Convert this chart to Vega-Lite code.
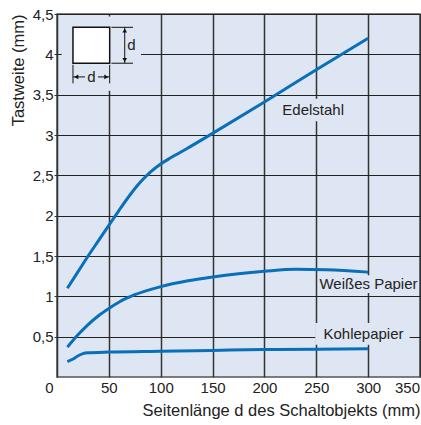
{
  "$schema": "https://vega.github.io/schema/vega-lite/v6.json",
  "width": 363,
  "height": 363,
  "autosize": {"type": "none"},
  "padding": {"left": 57, "top": 14, "right": 1, "bottom": 48},
  "background": "white",
  "config": {
    "font": "Liberation Sans",
    "view": {"fill": "#dfe6f3", "stroke": "#555555", "strokeWidth": 1.5}
  },
  "datasets": {
    "curves": [
      {"material": "Edelstahl", "d": 10, "t": 1.1},
      {"material": "Edelstahl", "d": 20, "t": 1.3},
      {"material": "Edelstahl", "d": 30, "t": 1.5},
      {"material": "Edelstahl", "d": 40, "t": 1.69},
      {"material": "Edelstahl", "d": 50, "t": 1.88},
      {"material": "Edelstahl", "d": 60, "t": 2.07},
      {"material": "Edelstahl", "d": 70, "t": 2.25},
      {"material": "Edelstahl", "d": 80, "t": 2.41},
      {"material": "Edelstahl", "d": 90, "t": 2.54},
      {"material": "Edelstahl", "d": 100, "t": 2.64},
      {"material": "Edelstahl", "d": 110, "t": 2.72},
      {"material": "Edelstahl", "d": 125, "t": 2.83},
      {"material": "Edelstahl", "d": 150, "t": 3.02},
      {"material": "Edelstahl", "d": 200, "t": 3.41},
      {"material": "Edelstahl", "d": 250, "t": 3.81},
      {"material": "Edelstahl", "d": 300, "t": 4.2},
      {"material": "Weißes Papier", "d": 10, "t": 0.37},
      {"material": "Weißes Papier", "d": 20, "t": 0.52},
      {"material": "Weißes Papier", "d": 30, "t": 0.65},
      {"material": "Weißes Papier", "d": 40, "t": 0.76},
      {"material": "Weißes Papier", "d": 50, "t": 0.85},
      {"material": "Weißes Papier", "d": 60, "t": 0.93},
      {"material": "Weißes Papier", "d": 75, "t": 1.02},
      {"material": "Weißes Papier", "d": 100, "t": 1.12},
      {"material": "Weißes Papier", "d": 125, "t": 1.19},
      {"material": "Weißes Papier", "d": 150, "t": 1.24},
      {"material": "Weißes Papier", "d": 175, "t": 1.28},
      {"material": "Weißes Papier", "d": 200, "t": 1.31},
      {"material": "Weißes Papier", "d": 230, "t": 1.335},
      {"material": "Weißes Papier", "d": 260, "t": 1.33},
      {"material": "Weißes Papier", "d": 300, "t": 1.3},
      {"material": "Kohlepapier", "d": 10, "t": 0.19},
      {"material": "Kohlepapier", "d": 15, "t": 0.22},
      {"material": "Kohlepapier", "d": 20, "t": 0.26},
      {"material": "Kohlepapier", "d": 25, "t": 0.29},
      {"material": "Kohlepapier", "d": 30, "t": 0.3},
      {"material": "Kohlepapier", "d": 50, "t": 0.31},
      {"material": "Kohlepapier", "d": 100, "t": 0.32},
      {"material": "Kohlepapier", "d": 150, "t": 0.33},
      {"material": "Kohlepapier", "d": 200, "t": 0.34},
      {"material": "Kohlepapier", "d": 250, "t": 0.345},
      {"material": "Kohlepapier", "d": 300, "t": 0.35}
    ],
    "gaps": [
      {"x": 213, "x2": 281, "y": 3.17, "y2": 3.45},
      {"x": 256, "x2": 346, "y": 1.04, "y2": 1.26},
      {"x": 249, "x2": 340, "y": 0.4, "y2": 0.67},
      {"x": 4.5, "x2": 81, "y": 3.55, "y2": 4.47}
    ],
    "square": [
      {"x": 15.4, "x2": 50.8, "y": 3.89, "y2": 4.335}
    ],
    "dimlines": [
      {"x": 52.5, "x2": 73.3, "y": 4.335, "y2": 4.335},
      {"x": 52.5, "x2": 73.3, "y": 3.89, "y2": 3.89},
      {"x": 15.4, "x2": 15.4, "y": 3.87, "y2": 3.64},
      {"x": 50.8, "x2": 50.8, "y": 3.87, "y2": 3.64},
      {"x": 65.3, "x2": 65.3, "y": 3.89, "y2": 4.335},
      {"x": 15.4, "x2": 27, "y": 3.72, "y2": 3.72},
      {"x": 39.5, "x2": 50.8, "y": 3.72, "y2": 3.72}
    ],
    "arrows": [
      {"x": 65.3, "y": 4.295, "dir": "up"},
      {"x": 65.3, "y": 3.93, "dir": "down"},
      {"x": 18.6, "y": 3.72, "dir": "left"},
      {"x": 47.6, "y": 3.72, "dir": "right"}
    ],
    "labels": [
      {"x": 247, "y": 3.31, "text": "Edelstahl"},
      {"x": 300.3, "y": 1.157, "text": "Weißes Papier"},
      {"x": 295.5, "y": 0.53, "text": "Kohlepapier"},
      {"x": 71.7, "y": 4.11, "text": "d"},
      {"x": 33.2, "y": 3.72, "text": "d"}
    ]
  },
  "layer": [
    {
      "data": {"name": "gaps"},
      "mark": {"type": "rect", "fill": "#dfe6f3"},
      "encoding": {
        "x": {
          "field": "x", "type": "quantitative",
          "scale": {"domain": [0, 350], "nice": false, "zero": false},
          "axis": {
            "values": [0, 50, 100, 150, 200, 250, 300, 350],
            "grid": true, "gridColor": "#333333", "gridWidth": 1.5,
            "domain": false, "ticks": false,
            "labelFontSize": 15, "labelColor": "#222222", "labelPadding": 3,
            "labelFlush": false,
            "labelOffset": {"condition": [{"test": "datum.value === 0", "value": -8}, {"test": "datum.value === 350", "value": -13}], "value": 0},
            "title": "Seitenlänge d des Schaltobjekts (mm)",
            "titleFontSize": 16.5, "titleFontWeight": "normal", "titleColor": "#222222",
            "titleAnchor": "end", "titlePadding": 7
          }
        },
        "x2": {"field": "x2"},
        "y": {
          "field": "y", "type": "quantitative",
          "scale": {"domain": [0, 4.5], "nice": false, "zero": false},
          "axis": {
            "values": [0.5, 1, 1.5, 2, 2.5, 3, 3.5, 4, 4.5],
            "labelExpr": "replace(format(datum.value, '~g'), '.', ',')",
            "grid": true, "gridColor": "#222222", "gridWidth": 1.2,
            "domain": false, "ticks": true, "tickSize": 3, "tickColor": "#333333",
            "labelFontSize": 15, "labelColor": "#222222", "labelPadding": 1,
            "title": "Tastweite (mm)",
            "titleFontSize": 16.5, "titleFontWeight": "normal", "titleColor": "#222222",
            "titleAnchor": "end", "titlePadding": 6
          }
        },
        "y2": {"field": "y2"}
      }
    },
    {
      "data": {"name": "square"},
      "mark": {"type": "rect", "fill": "white", "stroke": "#111111", "strokeWidth": 1.5},
      "encoding": {
        "x": {"field": "x", "type": "quantitative"},
        "x2": {"field": "x2"},
        "y": {"field": "y", "type": "quantitative"},
        "y2": {"field": "y2"}
      }
    },
    {
      "data": {"name": "dimlines"},
      "mark": {"type": "rule", "color": "#111111", "strokeWidth": 1},
      "encoding": {
        "x": {"field": "x", "type": "quantitative"},
        "x2": {"field": "x2"},
        "y": {"field": "y", "type": "quantitative"},
        "y2": {"field": "y2"}
      }
    },
    {
      "data": {"name": "arrows"},
      "mark": {"type": "point", "filled": true, "color": "#111111", "size": 22, "opacity": 1},
      "encoding": {
        "x": {"field": "x", "type": "quantitative"},
        "y": {"field": "y", "type": "quantitative"},
        "shape": {
          "field": "dir", "type": "nominal", "legend": null,
          "scale": {"domain": ["up", "down", "left", "right"], "range": ["triangle-up", "triangle-down", "triangle-left", "triangle-right"]}
        }
      }
    },
    {
      "data": {"name": "curves"},
      "mark": {"type": "line", "interpolate": "monotone", "strokeWidth": 3, "color": "#0a6fb9", "strokeCap": "butt"},
      "encoding": {
        "x": {"field": "d", "type": "quantitative"},
        "y": {"field": "t", "type": "quantitative"},
        "detail": {"field": "material", "type": "nominal"}
      }
    },
    {
      "data": {"name": "labels"},
      "mark": {"type": "text", "fontSize": 15, "color": "#222222", "align": "center", "baseline": "middle"},
      "encoding": {
        "x": {"field": "x", "type": "quantitative"},
        "y": {"field": "y", "type": "quantitative"},
        "text": {"field": "text"}
      }
    }
  ]
}
